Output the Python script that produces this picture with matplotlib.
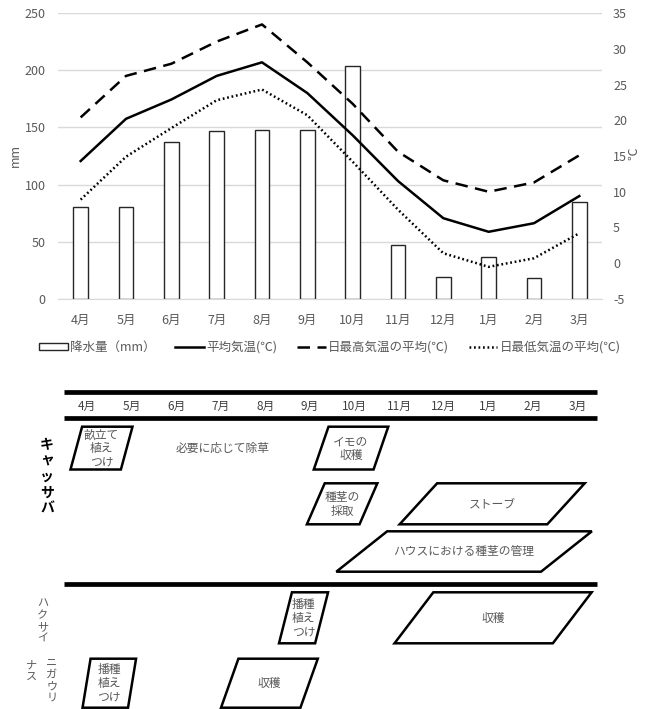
import matplotlib
matplotlib.use("Agg")
import matplotlib.pyplot as plt
from matplotlib.patches import Polygon, Rectangle
from matplotlib.lines import Line2D
import numpy as np

plt.rcParams['font.family'] = ['Noto Sans CJK JP', 'DejaVu Sans']
plt.rcParams['axes.unicode_minus'] = False

# ---------------- data ----------------
months = ['4月', '5月', '6月', '7月', '8月', '9月', '10月', '11月', '12月', '1月', '2月', '3月']
precip = [80.5, 80, 137, 147, 148, 148, 204, 47, 19, 37, 18.5, 84.5]
temp_mean = [14.3, 20.2, 22.9, 26.2, 28.1, 23.8, 17.9, 11.5, 6.3, 4.4, 5.6, 9.4]
temp_max = [20.4, 26.2, 27.9, 31.0, 33.4, 28.1, 22.3, 15.6, 11.6, 10.0, 11.3, 15.1]
temp_min = [8.9, 14.9, 18.9, 22.8, 24.3, 20.7, 14.2, 7.5, 1.4, -0.5, 0.7, 4.2]

legend_labels = ['降水量（mm）', '平均気温(℃)', '日最高気温の平均(℃)', '日最低気温の平均(℃)']

# schedule tasks: label, row, start (month index), end (month index), slant (months)
task_labels = ['畝立て\n植え\nつけ', 'イモの\n収穫', '種茎の\n採取', 'ストーブ',
               'ハウスにおける種茎の管理', '播種\n植え\nつけ', '収穫', '播種\n植え\nつけ', '収穫']
task_rows = ['c1', 'c1', 'c2', 'c2', 'c3', 'hk', 'hk', 'ns', 'ns']
task_start = [-0.24, 5.25, 5.13, 7.43, 6.16, 4.45, 7.33, -0.01, 3.20]
task_end = [0.89, 6.59, 6.31, 10.74, 10.75, 5.26, 10.88, 1.01, 4.98]
task_slant = [0.26, 0.33, 0.40, 0.84, 1.14, 0.29, 0.87, 0.18, 0.39]
note_label = '必要に応じて除草'
note_row = 'c1'
note_pos = 3.04

crop_labels = ['キャッサバ', 'ハクサイ', 'ニガウリ', 'ナス']

# ---------------- figure ----------------
W, H = 647, 709
fig = plt.figure(figsize=(W / 100, H / 100), dpi=100)
gray = '#595959'

ax = fig.add_axes([58 / W, 1 - 299 / H, 544 / W, 286 / H])
x = np.arange(len(months))
ax.bar(x, precip, width=0.33, facecolor='white', edgecolor='#262626', linewidth=1.0, zorder=2)
ax.set_xlim(-0.5, 11.5)
ax.set_ylim(0, 250)
ax.set_yticks(range(0, 251, 50))
ax.grid(axis='y', color='#d9d9d9', linewidth=1)
ax.set_axisbelow(True)
for s in ['top', 'right', 'left']:
    ax.spines[s].set_visible(False)
ax.spines['bottom'].set_color('#d9d9d9')
ax.set_xticks(x)
ax.set_xticklabels(months)
ax.tick_params(length=0, colors=gray, labelsize=9)
ax.tick_params(axis='y', pad=9)
ax.tick_params(axis='x', pad=11)
ax.set_ylabel('mm', color=gray, fontsize=9, va='center')
ax.yaxis.set_label_coords((15 - 58) / 544, 0.503)

ax2 = ax.twinx()
ax2.set_ylim(-5, 35)
ax2.set_yticks(range(-5, 36, 5))
for s in ['top', 'right', 'left', 'bottom']:
    ax2.spines[s].set_visible(False)
ax2.tick_params(length=0, colors=gray, labelsize=9, pad=8)
l_max, = ax2.plot(x, temp_max, color='black', lw=1.8, linestyle=(0, (5, 3)))
l_mean, = ax2.plot(x, temp_mean, color='black', lw=1.8)
l_min, = ax2.plot(x, temp_min, color='black', lw=1.8, linestyle=(0, (0.7, 1.1)))
ax2.set_ylabel('℃', color=gray, fontsize=9, rotation=90, va='center')
ax2.yaxis.set_label_coords((634 - 58) / 544, 0.508)

bar_handle = Rectangle((0, 0), 1, 1, facecolor='white', edgecolor='#262626', linewidth=1.0)
fig.legend([bar_handle, l_mean, l_max, l_min], legend_labels, loc='center',
           bbox_to_anchor=(330 / W, 1 - 347 / H), ncol=4, frameon=False, fontsize=9,
           handlelength=2.3, handleheight=0.5, handletextpad=0.2, columnspacing=1.55,
           labelcolor=gray)

# ---------------- schedule ----------------
axs = fig.add_axes([0, 0, 1, 1 - 375 / H])
x0px, dxpx = 87.0, 44.6
axs.set_xlim(-x0px / dxpx, (W - x0px) / dxpx)
axs.set_ylim(H, 375)
axs.axis('off')

rows = {'c1': (426.7, 469.5), 'c2': (483.3, 524.3), 'c3': (531.3, 571.7),
        'hk': (592.3, 643.3), 'ns': (658.7, 707.7)}

line_l, line_r = -0.52, 11.44
for yy in (392.3, 418.3, 584.0):
    axs.plot([line_l, line_r], [yy, yy], color='black', lw=3.4, solid_capstyle='butt')
for i, m in enumerate(months):
    axs.text(i, 406.5, m, ha='center', va='center', fontsize=8.5, color='#404040')

for lab, r, s0, s1, sl in zip(task_labels, task_rows, task_start, task_end, task_slant):
    yt, yb = rows[r]
    pts = [(s0 + sl / 2, yt), (s1 + sl / 2, yt), (s1 - sl / 2, yb), (s0 - sl / 2, yb)]
    axs.add_patch(Polygon(pts, closed=True, facecolor='white', edgecolor='black',
                          lw=1.8, joinstyle='miter'))
    axs.text((s0 + s1) / 2, (yt + yb) / 2 + 0.5, lab, ha='center', va='center', fontsize=8.5,
             color=gray, linespacing=1.08, multialignment='center')

yt, yb = rows[note_row]
axs.text(note_pos, (yt + yb) / 2, note_label, ha='center', va='center', fontsize=8.5, color=gray)

def vtext(label, xpx, y0, step, **kw):
    for k, ch in enumerate(label):
        axs.text((xpx - x0px) / dxpx, y0 + k * step, ch, ha='center', va='center', **kw)

vtext(crop_labels[0], 47, 445, 16, fontsize=10, fontweight='bold', color='black')
vtext(crop_labels[1], 42.7, 603.3, 11.7, fontsize=8, color=gray)
vtext(crop_labels[2], 51.7, 663.3, 11.4, fontsize=8, color=gray)
vtext(crop_labels[3], 31.7, 666, 12, fontsize=8, color=gray)

fig.savefig('out.png', dpi=100)
